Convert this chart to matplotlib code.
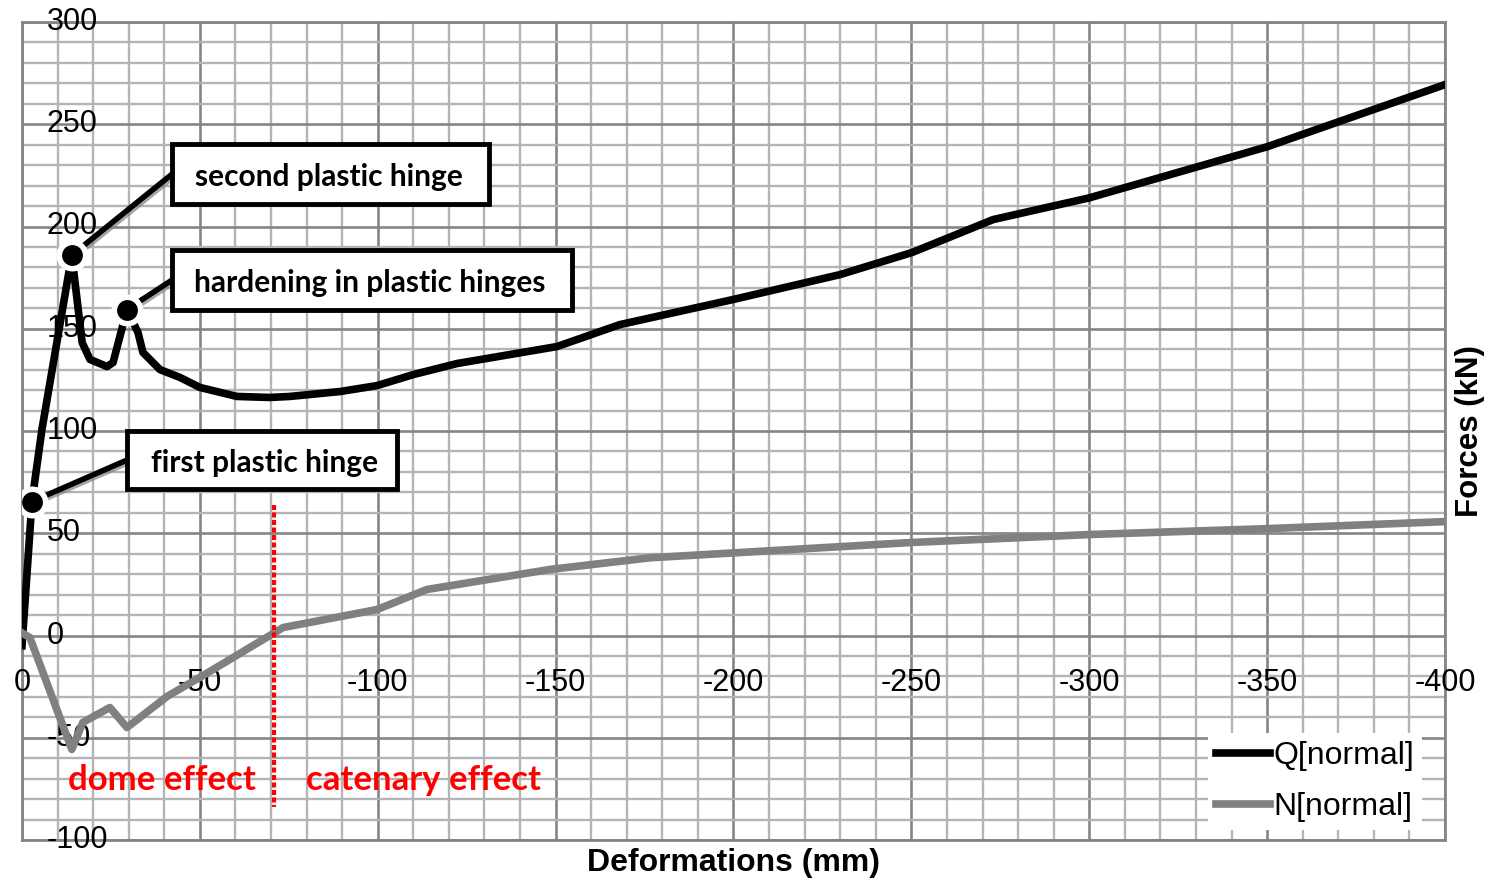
import matplotlib.pyplot as plt
import matplotlib.patheffects as pe
from matplotlib.patches import Rectangle
from matplotlib.ticker import MultipleLocator

# Q[normal] - shear force vs deformation
q_x = [0, -2.8, -5.6, -14, -16.9, -19.1, -23.9, -25.6, -29.5, -32.6, -34, -38.8,
       -44.4, -50, -60.4, -69.7, -75.3, -89.4, -99.8, -110, -122.3, -150.4, -168,
       -199.9, -230, -250.2, -273, -300, -350, -400]
q_y = [-5, 65.5, 100.7, 186, 143.3, 135, 131.5, 133.5, 159.4, 148.2, 138.4, 130,
       126.2, 121.3, 116.9, 116.4, 116.9, 119.3, 122.2, 127.6, 133, 141.3, 152,
       164.3, 176.5, 187.3, 203.4, 214, 239, 269.4]

# N[normal] - axial force vs deformation
n_x = [0, -2.2, -14, -17.1, -24.7, -29.5, -40.8, -52.8, -73.4, -99.8, -113.8,
       -148.4, -176.5, -250.2, -300.5, -350.8, -400]
n_y = [1.3, -1, -55.7, -42.5, -35.2, -45, -29.8, -17.6, 3.9, 12.7, 22.5,
       32.3, 38, 45.5, 49.4, 52.3, 55.7]

x_ticks = [0, -50, -100, -150, -200, -250, -300, -350, -400]
y_ticks = [300, 250, 200, 150, 100, 50, 0, -50, -100]

# annotated points on Q curve (index into q arrays) and their labels
hinge_idx = [1, 3, 8]
hinge_labels = ["first plastic hinge", "second plastic hinge", "hardening in plastic hinges"]

# label boxes: (x_left, x_right, y_bottom, y_top) in data units, text centre x
boxes = [(-29.5, -105.4, 71.4, 100.2), (-42.2, -131.3, 211.2, 240.1),
         (-42.2, -154.6, 159.4, 188.3)]
text_x = [-68.2, -86.4, -97.8]

split_x = -70.8

fig = plt.figure(figsize=(14.93, 8.82), dpi=100)
ax = fig.add_axes([22 / 1493, 42 / 882, 1423 / 1493, 818 / 882])

ax.set_xlim(0, -400)
ax.set_ylim(-100, 300)

ax.xaxis.set_major_locator(MultipleLocator(50))
ax.xaxis.set_minor_locator(MultipleLocator(10))
ax.yaxis.set_major_locator(MultipleLocator(50))
ax.yaxis.set_minor_locator(MultipleLocator(10))
ax.grid(which='minor', color='#b4b4b4', lw=1.7, zorder=0)
ax.grid(which='major', color='#858585', lw=1.9, zorder=0)
ax.set_axisbelow(True)
ax.tick_params(which='both', length=0, labelbottom=False, labelleft=False)
for s in ax.spines.values():
    s.set_color('#858585')
    s.set_linewidth(2)

tick_font = dict(family='Liberation Sans', fontsize=22, color='black')
for v in y_ticks:
    ax.text(-7.0, v, str(v), ha='left', va='center', **tick_font)
for v in x_ticks:
    ax.text(v, -23, str(v), ha='center', va='center', **tick_font)

ax.plot(q_x, q_y, color='black', lw=5.5, solid_joinstyle='round', label='Q[normal]', zorder=3)
ax.plot(n_x, n_y, color='#808080', lw=5.5, solid_joinstyle='round', label='N[normal]', zorder=3)

# dome / catenary split
ax.plot([split_x, split_x], [64, -84], color='red', lw=3, ls=(0, (1.2, 0.6)), zorder=4)
red_font = dict(family='Lato', fontweight='bold', fontsize=25, color='red')
ax.text(-39.4, -70.5, "dome effect", ha='center', va='center', **red_font)
ax.text(-113, -70.5, "catenary effect", ha='center', va='center', **red_font)

# annotations
shadow = [pe.SimpleLineShadow(offset=(1.5, -1.5), shadow_color='gray', alpha=0.7), pe.Normal()]
for i, lab, b, tx in zip(hinge_idx, hinge_labels, boxes, text_x):
    px, py = q_x[i], q_y[i]
    x0, x1, y0, y1 = b
    yc = (y0 + y1) / 2
    ax.plot([px, x0], [py, yc], color='black', lw=4, path_effects=shadow, zorder=5)
    ax.add_patch(Rectangle((x0, y0), x1 - x0, y1 - y0, fc='white', ec='black',
                           lw=3.5, zorder=6))
    ax.text(tx, yc - 1.5, lab, ha='center', va='center', family='Lato',
            fontweight='bold', fontsize=21.5, zorder=7)
    ax.plot(px, py, 'o', ms=19, mfc='black', mec='white', mew=4, zorder=6)

leg = ax.legend(loc='lower right', bbox_to_anchor=(0.984, 0.012), frameon=True,
                fancybox=False, framealpha=1, edgecolor='none', facecolor='white',
                prop={'family': 'Liberation Sans', 'size': 23}, handlelength=1.7,
                handletextpad=0.1, labelspacing=0.65, borderpad=0.25, borderaxespad=0)

ax.set_xlabel("Deformations (mm)", family='Liberation Sans', fontweight='bold', fontsize=23)
ax.xaxis.set_label_coords(0.5, -0.01)
ax.yaxis.set_label_position('right')
ax.set_ylabel("Forces (kN)", family='Liberation Sans', fontweight='bold', fontsize=22.5)
ax.yaxis.set_label_coords(1.007, 0.5)

fig.savefig('out.png', dpi=100)
